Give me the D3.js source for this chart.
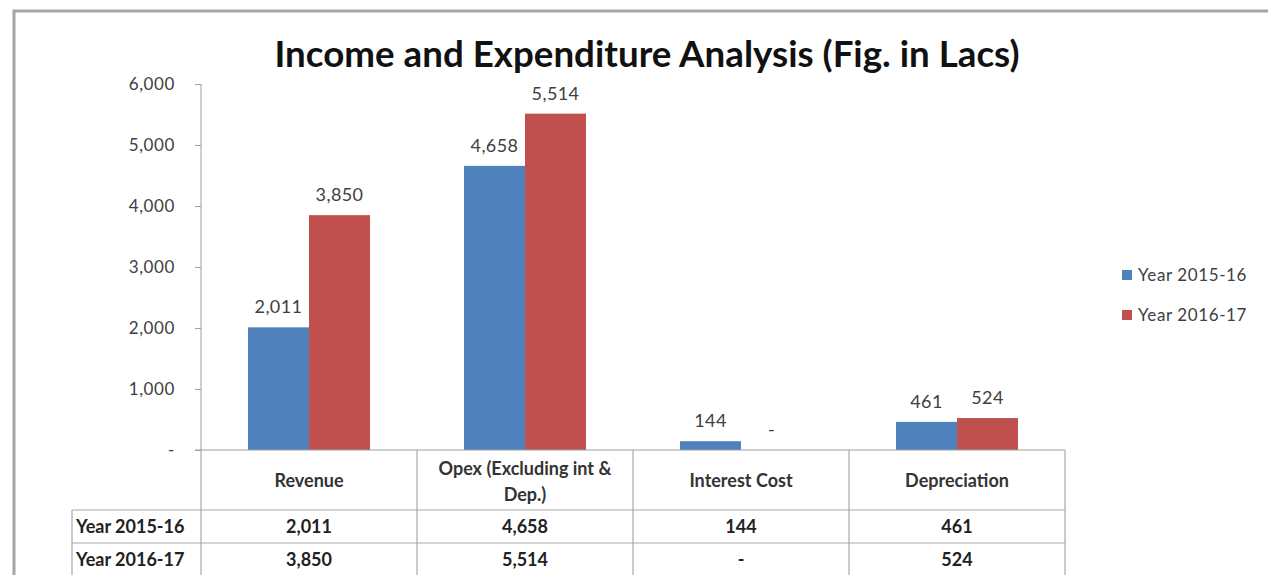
<!DOCTYPE html>
<html>
<head>
<meta charset="utf-8">
<script src="https://cdn.jsdelivr.net/npm/d3@7"></script>
<style>
  body { margin: 0; background: #fff; }
  svg { display: block; font-family: Lato, "Open Sans", sans-serif; }
</style>
</head>
<body>
<script>
// Dados do gráfico
const categorias = ['Revenue', 'Opex (Excluding int &|Dep.)', 'Interest Cost', 'Depreciation'];
const series = ['Year 2015-16', 'Year 2016-17'];
const valores2015 = [2011, 4658, 144, 461];
const valores2016 = [3850, 5514, 0, 524];
const yTicks = [0, 1000, 2000, 3000, 4000, 5000, 6000];
const cores = ['#4f81bd', '#c0504d'];

const W = 1268, H = 575;
const svg = d3.select('body').append('svg')
    .attr('width', W)
    .attr('height', H);

// moldura cinza (recorte da imagem)
svg.append('path')
    .attr('d', `M14,${H} L14,11 L${W},11`)
    .attr('fill', 'none')
    .attr('stroke', '#a6a6a6')
    .attr('stroke-width', 3);

// Título
svg.append('text')
    .attr('x', 647)
    .attr('y', 67)
    .attr('text-anchor', 'middle')
    .attr('font-size', 37)
    .attr('font-weight', 'bold')
    .attr('fill', '#111')
    .attr('textLength', 745)
    .attr('lengthAdjust', 'spacingAndGlyphs')
    .text('Income and Expenditure Analysis (Fig. in Lacs)');

// Escalas
const xScale = d3.scaleBand()
    .domain(categorias)
    .range([201, 1065]);

const xSub = d3.scaleBand()
    .domain(series)
    .range([0, xScale.bandwidth()])
    .paddingOuter(0.77);

const yScale = d3.scaleLinear()
    .domain([0, 6000])
    .range([450, 84]);

const fmt = v => v === 0 ? '-' : d3.format(',')(v);

// Eixo Y
const yAxis = svg.append('g')
    .attr('transform', 'translate(201,0)')
    .call(d3.axisLeft(yScale).tickValues(yTicks).tickSize(6).tickFormat(fmt));
yAxis.select('.domain').attr('stroke', '#a0a0a0').attr('d', 'M0,84 L0,450');
yAxis.selectAll('.tick line').attr('stroke', '#a0a0a0');
yAxis.selectAll('.tick text')
    .attr('x', -26)
    .attr('font-size', 17)
    .attr('letter-spacing', 0.6)
    .attr('fill', '#404040')
    .attr('font-family', 'Lato, sans-serif');

// dados em formato de linhas
const dados = [];
categorias.forEach((c, i) => {
    dados.push({ cat: c, s: series[0], v: valores2015[i], cor: cores[0] });
    dados.push({ cat: c, s: series[1], v: valores2016[i], cor: cores[1] });
});

// Barras
svg.selectAll('.bar')
    .data(dados)
    .enter()
    .append('rect')
    .attr('x', d => xScale(d.cat) + xSub(d.s))
    .attr('y', d => yScale(d.v))
    .attr('width', xSub.bandwidth())
    .attr('height', d => yScale(0) - yScale(d.v))
    .attr('fill', d => d.cor);

// Rótulos das barras
svg.selectAll('.label')
    .data(dados)
    .enter()
    .append('text')
    .attr('x', d => xScale(d.cat) + xSub(d.s) + xSub.bandwidth() / 2)
    .attr('y', d => yScale(d.v) - 14)
    .attr('text-anchor', 'middle')
    .attr('font-size', 18)
    .attr('letter-spacing', 0.4)
    .attr('fill', '#404040')
    .text(d => fmt(d.v));

// Linha do eixo X (zero)
svg.append('line')
    .attr('x1', 195).attr('x2', 1065)
    .attr('y1', yScale(0)).attr('y2', yScale(0))
    .attr('stroke', '#a0a0a0');

// Tabela de dados
const linhas = [510, 543, 576];
const gTab = svg.append('g').attr('stroke', '#a8a8a8').attr('stroke-width', 1.2);
// linhas horizontais
linhas.forEach(y => {
    gTab.append('line').attr('x1', 72).attr('x2', 1065).attr('y1', y).attr('y2', y);
});
// verticais
gTab.append('line').attr('x1', 72).attr('x2', 72).attr('y1', 510).attr('y2', H);
gTab.append('line').attr('x1', 201).attr('x2', 201).attr('y1', 450).attr('y2', H);
categorias.forEach(c => {
    const x = xScale(c) + xScale.bandwidth();
    gTab.append('line').attr('x1', x).attr('x2', x).attr('y1', 450).attr('y2', H);
});

// Cabeçalhos de categoria
categorias.forEach(c => {
    const partes = c.split('|');
    const cx = xScale(c) + xScale.bandwidth() / 2;
    const t = svg.append('text')
        .attr('text-anchor', 'middle')
        .attr('font-size', 18)
        .attr('font-weight', 'bold')
        .attr('fill', '#333');
    if (partes.length === 1) {
        t.append('tspan').attr('x', cx).attr('y', 487).text(partes[0]);
    } else {
        t.append('tspan').attr('x', cx).attr('y', 475).text(partes[0]);
        t.append('tspan').attr('x', cx).attr('y', 501).text(partes[1]);
    }
});

// Linhas de valores
[valores2015, valores2016].forEach((vals, r) => {
    const y = (linhas[r] + linhas[r + 1]) / 2 + 6;
    svg.append('text')
        .attr('x', 76).attr('y', y)
        .attr('font-size', 18)
        .attr('font-weight', 'bold')
        .attr('fill', '#222')
        .text(series[r]);
    vals.forEach((v, i) => {
        svg.append('text')
            .attr('x', xScale(categorias[i]) + xScale.bandwidth() / 2)
            .attr('y', y)
            .attr('text-anchor', 'middle')
            .attr('font-size', 18)
            .attr('font-weight', 'bold')
            .attr('fill', '#222')
            .text(fmt(v));
    });
});

// Legenda
const legenda = svg.append('g');
series.forEach((s, i) => {
    const y = 275 + i * 40;
    legenda.append('rect')
        .attr('x', 1122).attr('y', y - 5)
        .attr('width', 10).attr('height', 10)
        .attr('fill', cores[i]);
    legenda.append('text')
        .attr('x', 1138).attr('y', y + 6)
        .attr('font-size', 17)
        .attr('letter-spacing', 0.6)
        .attr('fill', '#404040')
        .text(s);
});
</script>
</body>
</html>
